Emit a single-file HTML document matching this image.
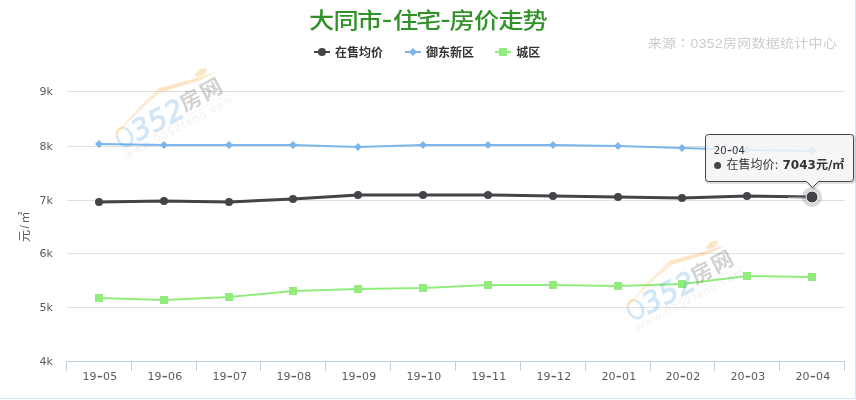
<!DOCTYPE html>
<html><head><meta charset="utf-8"><title>大同市-住宅-房价走势</title>
<style>
html,body{margin:0;padding:0;background:#fff;}
body{width:856px;height:400px;position:relative;overflow:hidden;}
.bd{position:absolute;left:0;top:0;width:855px;height:398px;border-right:1px solid #d6e6f6;border-bottom:1px solid #d6e6f6;}
</style></head><body>
<div class="bd"></div>
<svg width="856" height="400" viewBox="0 0 856 400" style="position:absolute;left:0;top:0">
<path d="M67 91.5 H845" stroke="#e0e0e0" stroke-width="1" fill="none"/>
<path d="M67 146.5 H845" stroke="#e0e0e0" stroke-width="1" fill="none"/>
<path d="M67 200.5 H845" stroke="#e0e0e0" stroke-width="1" fill="none"/>
<path d="M67 253.5 H845" stroke="#e0e0e0" stroke-width="1" fill="none"/>
<path d="M67 307.5 H845" stroke="#e0e0e0" stroke-width="1" fill="none"/>
<path d="M66 361.5 H845" stroke="#c0d0e0" stroke-width="1" fill="none"/>
<path d="M66.5 361 V371" stroke="#c0d0e0" stroke-width="1" fill="none"/>
<path d="M131.5 361 V371" stroke="#c0d0e0" stroke-width="1" fill="none"/>
<path d="M196.5 361 V371" stroke="#c0d0e0" stroke-width="1" fill="none"/>
<path d="M260.5 361 V371" stroke="#c0d0e0" stroke-width="1" fill="none"/>
<path d="M325.5 361 V371" stroke="#c0d0e0" stroke-width="1" fill="none"/>
<path d="M390.5 361 V371" stroke="#c0d0e0" stroke-width="1" fill="none"/>
<path d="M455.5 361 V371" stroke="#c0d0e0" stroke-width="1" fill="none"/>
<path d="M520.5 361 V371" stroke="#c0d0e0" stroke-width="1" fill="none"/>
<path d="M585.5 361 V371" stroke="#c0d0e0" stroke-width="1" fill="none"/>
<path d="M650.5 361 V371" stroke="#c0d0e0" stroke-width="1" fill="none"/>
<path d="M714.5 361 V371" stroke="#c0d0e0" stroke-width="1" fill="none"/>
<path d="M779.5 361 V371" stroke="#c0d0e0" stroke-width="1" fill="none"/>
<path d="M844.5 361 V371" stroke="#c0d0e0" stroke-width="1" fill="none"/>
<text x="52.8" y="95.2" text-anchor="end" font-family='"DejaVu Sans", "Noto Sans CJK SC", sans-serif' font-size="11" fill="#5a5a5a">9k</text>
<text x="52.8" y="150.2" text-anchor="end" font-family='"DejaVu Sans", "Noto Sans CJK SC", sans-serif' font-size="11" fill="#5a5a5a">8k</text>
<text x="52.8" y="204.2" text-anchor="end" font-family='"DejaVu Sans", "Noto Sans CJK SC", sans-serif' font-size="11" fill="#5a5a5a">7k</text>
<text x="52.8" y="257.2" text-anchor="end" font-family='"DejaVu Sans", "Noto Sans CJK SC", sans-serif' font-size="11" fill="#5a5a5a">6k</text>
<text x="52.8" y="311.2" text-anchor="end" font-family='"DejaVu Sans", "Noto Sans CJK SC", sans-serif' font-size="11" fill="#5a5a5a">5k</text>
<text x="52.8" y="365.2" text-anchor="end" font-family='"DejaVu Sans", "Noto Sans CJK SC", sans-serif' font-size="11" fill="#5a5a5a">4k</text>
<text x="99.90" y="380.2" text-anchor="middle" font-family='"DejaVu Sans", "Noto Sans CJK SC", sans-serif' font-size="11" letter-spacing="0.2" fill="#5a5a5a">19<tspan font-size="17" dy="0.4" letter-spacing="0">-</tspan><tspan dy="-0.4">05</tspan></text>
<text x="164.90" y="380.2" text-anchor="middle" font-family='"DejaVu Sans", "Noto Sans CJK SC", sans-serif' font-size="11" letter-spacing="0.2" fill="#5a5a5a">19<tspan font-size="17" dy="0.4" letter-spacing="0">-</tspan><tspan dy="-0.4">06</tspan></text>
<text x="229.90" y="380.2" text-anchor="middle" font-family='"DejaVu Sans", "Noto Sans CJK SC", sans-serif' font-size="11" letter-spacing="0.2" fill="#5a5a5a">19<tspan font-size="17" dy="0.4" letter-spacing="0">-</tspan><tspan dy="-0.4">07</tspan></text>
<text x="293.90" y="380.2" text-anchor="middle" font-family='"DejaVu Sans", "Noto Sans CJK SC", sans-serif' font-size="11" letter-spacing="0.2" fill="#5a5a5a">19<tspan font-size="17" dy="0.4" letter-spacing="0">-</tspan><tspan dy="-0.4">08</tspan></text>
<text x="358.90" y="380.2" text-anchor="middle" font-family='"DejaVu Sans", "Noto Sans CJK SC", sans-serif' font-size="11" letter-spacing="0.2" fill="#5a5a5a">19<tspan font-size="17" dy="0.4" letter-spacing="0">-</tspan><tspan dy="-0.4">09</tspan></text>
<text x="423.90" y="380.2" text-anchor="middle" font-family='"DejaVu Sans", "Noto Sans CJK SC", sans-serif' font-size="11" letter-spacing="0.2" fill="#5a5a5a">19<tspan font-size="17" dy="0.4" letter-spacing="0">-</tspan><tspan dy="-0.4">10</tspan></text>
<text x="488.90" y="380.2" text-anchor="middle" font-family='"DejaVu Sans", "Noto Sans CJK SC", sans-serif' font-size="11" letter-spacing="0.2" fill="#5a5a5a">19<tspan font-size="17" dy="0.4" letter-spacing="0">-</tspan><tspan dy="-0.4">11</tspan></text>
<text x="553.90" y="380.2" text-anchor="middle" font-family='"DejaVu Sans", "Noto Sans CJK SC", sans-serif' font-size="11" letter-spacing="0.2" fill="#5a5a5a">19<tspan font-size="17" dy="0.4" letter-spacing="0">-</tspan><tspan dy="-0.4">12</tspan></text>
<text x="618.90" y="380.2" text-anchor="middle" font-family='"DejaVu Sans", "Noto Sans CJK SC", sans-serif' font-size="11" letter-spacing="0.2" fill="#5a5a5a">20<tspan font-size="17" dy="0.4" letter-spacing="0">-</tspan><tspan dy="-0.4">01</tspan></text>
<text x="682.90" y="380.2" text-anchor="middle" font-family='"DejaVu Sans", "Noto Sans CJK SC", sans-serif' font-size="11" letter-spacing="0.2" fill="#5a5a5a">20<tspan font-size="17" dy="0.4" letter-spacing="0">-</tspan><tspan dy="-0.4">02</tspan></text>
<text x="747.90" y="380.2" text-anchor="middle" font-family='"DejaVu Sans", "Noto Sans CJK SC", sans-serif' font-size="11" letter-spacing="0.2" fill="#5a5a5a">20<tspan font-size="17" dy="0.4" letter-spacing="0">-</tspan><tspan dy="-0.4">03</tspan></text>
<text x="812.90" y="380.2" text-anchor="middle" font-family='"DejaVu Sans", "Noto Sans CJK SC", sans-serif' font-size="11" letter-spacing="0.2" fill="#5a5a5a">20<tspan font-size="17" dy="0.4" letter-spacing="0">-</tspan><tspan dy="-0.4">04</tspan></text>
<text transform="translate(28.8 226) rotate(-90)" text-anchor="middle" font-family='"Liberation Sans", "Noto Sans CJK SC", sans-serif' font-size="12" letter-spacing="1.5" fill="#5a5a5a">元/㎡</text>
<polyline points="99.00,202.00 164.00,201.00 229.00,202.00 293.00,199.00 358.00,195.00 423.00,195.00 488.00,195.00 553.00,196.00 618.00,197.00 682.00,198.00 747.00,196.00 812.00,197.00" stroke="#434348" stroke-width="3" fill="none" stroke-linejoin="round" stroke-linecap="round"/>
<polyline points="99.00,144.00 164.00,145.00 229.00,145.00 293.00,145.00 358.00,147.00 423.00,145.00 488.00,145.00 553.00,145.00 618.00,146.00 682.00,148.00 747.00,150.00 812.00,151.00" stroke="#7cb5ec" stroke-width="2" fill="none" stroke-linejoin="round" stroke-linecap="round"/>
<polyline points="99.00,298.00 164.00,300.00 229.00,297.00 293.00,291.00 358.00,289.00 423.00,288.00 488.00,285.00 553.00,285.00 618.00,286.00 682.00,284.00 747.00,276.00 812.00,277.00" stroke="#90ed7d" stroke-width="2" fill="none" stroke-linejoin="round" stroke-linecap="round"/>
<circle cx="99.00" cy="202" r="4" fill="#434348"/>
<circle cx="164.00" cy="201" r="4" fill="#434348"/>
<circle cx="229.00" cy="202" r="4" fill="#434348"/>
<circle cx="293.00" cy="199" r="4" fill="#434348"/>
<circle cx="358.00" cy="195" r="4" fill="#434348"/>
<circle cx="423.00" cy="195" r="4" fill="#434348"/>
<circle cx="488.00" cy="195" r="4" fill="#434348"/>
<circle cx="553.00" cy="196" r="4" fill="#434348"/>
<circle cx="618.00" cy="197" r="4" fill="#434348"/>
<circle cx="682.00" cy="198" r="4" fill="#434348"/>
<circle cx="747.00" cy="196" r="4" fill="#434348"/>
<path d="M99.00 140 L103.00 144 L99.00 148 L95.00 144 Z" fill="#7cb5ec"/>
<path d="M164.00 141 L168.00 145 L164.00 149 L160.00 145 Z" fill="#7cb5ec"/>
<path d="M229.00 141 L233.00 145 L229.00 149 L225.00 145 Z" fill="#7cb5ec"/>
<path d="M293.00 141 L297.00 145 L293.00 149 L289.00 145 Z" fill="#7cb5ec"/>
<path d="M358.00 143 L362.00 147 L358.00 151 L354.00 147 Z" fill="#7cb5ec"/>
<path d="M423.00 141 L427.00 145 L423.00 149 L419.00 145 Z" fill="#7cb5ec"/>
<path d="M488.00 141 L492.00 145 L488.00 149 L484.00 145 Z" fill="#7cb5ec"/>
<path d="M553.00 141 L557.00 145 L553.00 149 L549.00 145 Z" fill="#7cb5ec"/>
<path d="M618.00 142 L622.00 146 L618.00 150 L614.00 146 Z" fill="#7cb5ec"/>
<path d="M682.00 144 L686.00 148 L682.00 152 L678.00 148 Z" fill="#7cb5ec"/>
<path d="M747.00 146 L751.00 150 L747.00 154 L743.00 150 Z" fill="#7cb5ec"/>
<path d="M812.00 147 L816.00 151 L812.00 155 L808.00 151 Z" fill="#7cb5ec"/>
<rect x="95.00" y="294" width="8" height="8" fill="#90ed7d"/>
<rect x="160.00" y="296" width="8" height="8" fill="#90ed7d"/>
<rect x="225.00" y="293" width="8" height="8" fill="#90ed7d"/>
<rect x="289.00" y="287" width="8" height="8" fill="#90ed7d"/>
<rect x="354.00" y="285" width="8" height="8" fill="#90ed7d"/>
<rect x="419.00" y="284" width="8" height="8" fill="#90ed7d"/>
<rect x="484.00" y="281" width="8" height="8" fill="#90ed7d"/>
<rect x="549.00" y="281" width="8" height="8" fill="#90ed7d"/>
<rect x="614.00" y="282" width="8" height="8" fill="#90ed7d"/>
<rect x="678.00" y="280" width="8" height="8" fill="#90ed7d"/>
<rect x="743.00" y="272" width="8" height="8" fill="#90ed7d"/>
<rect x="808.00" y="273" width="8" height="8" fill="#90ed7d"/>
<path d="M788 197.6 L805 197.6" stroke="#fff" stroke-opacity="0.4" stroke-width="1.4"/>
<circle cx="812.00" cy="197" r="10" fill="#434348" fill-opacity="0.2"/>
<circle cx="812.00" cy="197" r="6" fill="#434348" stroke="#fff" stroke-width="1"/>
<g transform="translate(125 137)">
<path d="M-6.5 -7 L15 -30.5 L33.5 -48.8 L35 -44.2 L17 -28.6 L-5.8 -6.2 Z" fill="#f5a02a" fill-opacity="0.2"/>
<path d="M33.5 -48.8 L75 -59.9 L91 -65.2 L75 -56.7 L35 -44.2 Z" fill="#f5a02a" fill-opacity="0.28"/>
<path d="M69.4 -62 L74.4 -67.6 L81.25 -68.9 L80.6 -63.6 L72.5 -60.1 Z" fill="#f5a02a" fill-opacity="0.28"/>
<g transform="rotate(-28)">
<path d="M-6.6 -4.8 A7 9.5 0 0 1 4.5 -7.3" fill="none" stroke="#f5a02a" stroke-opacity="0.3" stroke-width="2.4"/>
<path d="M4.5 -7.3 A7 9.5 0 1 1 -6.6 -4.8" fill="none" stroke="#3d97dd" stroke-opacity="0.24" stroke-width="2.6"/>
<g opacity="0.23"><text x="9" y="10" font-family='"DejaVu Sans", sans-serif' font-style="italic" font-size="28.5" letter-spacing="0.6" fill="#3d97dd" stroke="#3d97dd" stroke-width="1">352</text></g>
<g opacity="0.26"><text x="64.5" y="6" font-family='"Liberation Sans", "Noto Sans CJK SC", sans-serif' font-weight="bold" font-size="21.5" letter-spacing="1.8" fill="#555">房网</text></g>
<text x="-8" y="20" font-family='"Liberation Sans", sans-serif' font-size="11" letter-spacing="1.6" fill="#000" fill-opacity="0.065">www.0352fang.com</text>
<path d="M-8 10.5 L112 10.5" stroke="#000" stroke-opacity="0.03" stroke-width="1"/>
</g></g>
<g transform="translate(636 309.5)">
<path d="M-6.5 -7 L15 -30.5 L33.5 -48.8 L35 -44.2 L17 -28.6 L-5.8 -6.2 Z" fill="#f5a02a" fill-opacity="0.2"/>
<path d="M33.5 -48.8 L75 -59.9 L91 -65.2 L75 -56.7 L35 -44.2 Z" fill="#f5a02a" fill-opacity="0.28"/>
<path d="M69.4 -62 L74.4 -67.6 L81.25 -68.9 L80.6 -63.6 L72.5 -60.1 Z" fill="#f5a02a" fill-opacity="0.28"/>
<g transform="rotate(-28)">
<path d="M-6.6 -4.8 A7 9.5 0 0 1 4.5 -7.3" fill="none" stroke="#f5a02a" stroke-opacity="0.3" stroke-width="2.4"/>
<path d="M4.5 -7.3 A7 9.5 0 1 1 -6.6 -4.8" fill="none" stroke="#3d97dd" stroke-opacity="0.24" stroke-width="2.6"/>
<g opacity="0.23"><text x="9" y="10" font-family='"DejaVu Sans", sans-serif' font-style="italic" font-size="28.5" letter-spacing="0.6" fill="#3d97dd" stroke="#3d97dd" stroke-width="1">352</text></g>
<g opacity="0.26"><text x="64.5" y="6" font-family='"Liberation Sans", "Noto Sans CJK SC", sans-serif' font-weight="bold" font-size="21.5" letter-spacing="1.8" fill="#555">房网</text></g>
<text x="-8" y="20" font-family='"Liberation Sans", sans-serif' font-size="11" letter-spacing="1.6" fill="#000" fill-opacity="0.065">www.0352fang.com</text>
<path d="M-8 10.5 L112 10.5" stroke="#000" stroke-opacity="0.03" stroke-width="1"/>
</g></g>
<text transform="matrix(1.05 0 0 0.92 0 0)" y="31.09" font-family='"Liberation Sans", "Noto Sans CJK SC", sans-serif' font-size="24" font-weight="500" fill="#32922a"><tspan x="294.24" y="30.00">大</tspan><tspan x="317.62" y="30.00">同</tspan><tspan x="340.14" y="30.00">市</tspan><tspan x="363.56" y="30.54" font-size="30">-</tspan><tspan x="374.24" y="30.00">住</tspan><tspan x="396.14" y="30.00">宅</tspan><tspan x="419.28" y="30.54" font-size="30">-</tspan><tspan x="428.05" y="30.00">房</tspan><tspan x="451.38" y="30.00">价</tspan><tspan x="474.71" y="30.00">走</tspan><tspan x="497.57" y="30.00">势</tspan></text>
<path d="M314 52 H330" stroke="#434348" stroke-width="2"/>
<circle cx="322" cy="52" r="4" fill="#434348"/>
<text x="335" y="57" font-family='"Liberation Sans", "Noto Sans CJK SC", sans-serif' font-size="12" font-weight="bold" fill="#333">在售均价</text>
<path d="M405 52 H421" stroke="#7cb5ec" stroke-width="2"/>
<path d="M413 48 L417 52 L413 56 L409 52Z" fill="#7cb5ec"/>
<text x="426" y="57" font-family='"Liberation Sans", "Noto Sans CJK SC", sans-serif' font-size="12" font-weight="bold" fill="#333">御东新区</text>
<path d="M495 52 H511" stroke="#90ed7d" stroke-width="2"/>
<rect x="499" y="48" width="8" height="8" fill="#90ed7d"/>
<text x="516.3" y="57" font-family='"Liberation Sans", "Noto Sans CJK SC", sans-serif' font-size="12" font-weight="bold" fill="#333">城区</text>
<text transform="matrix(1 0 0 0.88 0 0)" y="54.09" font-family='"Liberation Sans", "Noto Sans CJK SC", sans-serif' font-size="14" fill="#cccccc"><tspan x="648">来源</tspan><tspan font-family='"Liberation Sans", "Noto Sans CJK TC", sans-serif'>：</tspan><tspan x="690.6" letter-spacing="0.3">0352房网数据统计中心</tspan></text>
<path d="M708.5 134.5 H850.5 Q853.5 134.5 853.5 137.5 V178.5 Q853.5 181.5 850.5 181.5 H818.5 L812.5 187.5 L806.5 181.5 H708.5 Q705.5 181.5 705.5 178.5 V137.5 Q705.5 134.5 708.5 134.5 Z" transform="translate(1 1)" fill="none" stroke="#000" stroke-opacity="0.12" stroke-width="3"/>
<path d="M708.5 134.5 H850.5 Q853.5 134.5 853.5 137.5 V178.5 Q853.5 181.5 850.5 181.5 H818.5 L812.5 187.5 L806.5 181.5 H708.5 Q705.5 181.5 705.5 178.5 V137.5 Q705.5 134.5 708.5 134.5 Z" fill="rgb(245,245,245)" fill-opacity="0.86" stroke="#434348" stroke-width="1"/>
<text x="713.8" y="154" font-family='"DejaVu Sans", "Noto Sans CJK SC", sans-serif' font-size="10" letter-spacing="0.2" fill="#333">20<tspan font-size="14" dy="0.9" letter-spacing="0">-</tspan><tspan dy="-0.9">04</tspan></text>
<circle cx="717.6" cy="165.5" r="3.5" fill="#434348"/>
<text x="726.6" y="168.8" font-family='"DejaVu Sans", "Noto Sans CJK SC", sans-serif' font-size="12" fill="#333">在售均价: <tspan x="782.5" font-weight="bold">7043元/㎡</tspan></text>
</svg>
</body></html>
